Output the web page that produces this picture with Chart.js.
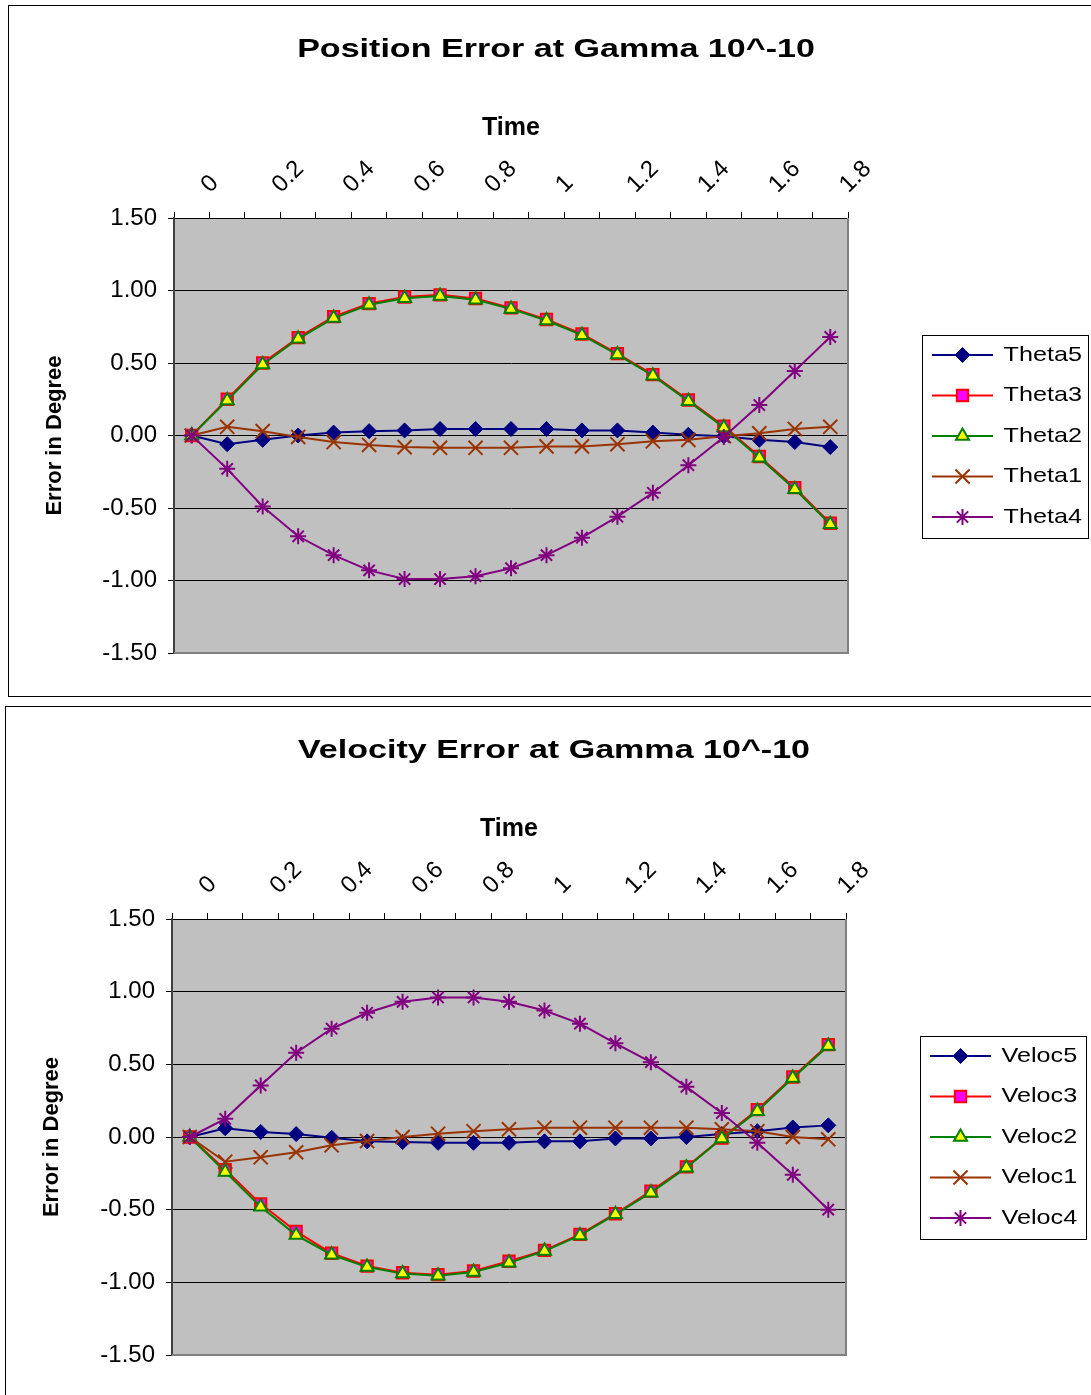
<!DOCTYPE html>
<html>
<head>
<meta charset="utf-8">
<title>Position and Velocity Error at Gamma 10^-10</title>
<script src="https://cdn.jsdelivr.net/npm/chart.js@4.4.1/dist/chart.umd.min.js"></script>
<style>
  html, body { margin: 0; padding: 0; background: #fff; overflow: hidden; }
  .frame { position: absolute; border: 1px solid #000; background: #fff; }
  #frame1 { left: 8px; top: 5px; width: 1090px; height: 690px; }
  #frame2 { left: 5px; top: 706px; width: 1090px; height: 700px; }
  canvas { display: block; }
</style>
</head>
<body>
<div class="frame" id="frame1"><canvas id="posChart" width="1090" height="690" style="width:1090px;height:690px"></canvas></div>
<div class="frame" id="frame2"><canvas id="velChart" width="1090" height="688" style="width:1090px;height:688px"></canvas></div>
<script>
// time steps (category axis), every other one is labelled
const timeLabels = ['0', '0.1', '0.2', '0.3', '0.4', '0.5', '0.6', '0.7', '0.8', '0.9',
                    '1', '1.1', '1.2', '1.3', '1.4', '1.5', '1.6', '1.7', '1.8'];
const yTicks = [-1.5, -1.0, -0.5, 0, 0.5, 1.0, 1.5];

// position error, degrees
const thetaNames = ['Theta5', 'Theta3', 'Theta2', 'Theta1', 'Theta4'];
const theta5 = [0, -0.06, -0.03, 0, 0.02, 0.03, 0.035, 0.045, 0.045, 0.045, 0.045, 0.035, 0.035, 0.02, 0.005, -0.005, -0.03, -0.045, -0.08];
const theta3 = [0, 0.25, 0.50, 0.675, 0.82, 0.91, 0.955, 0.97, 0.945, 0.88, 0.80, 0.70, 0.565, 0.42, 0.245, 0.065, -0.145, -0.36, -0.605];
const theta2 = [0, 0.242, 0.49, 0.667, 0.81, 0.902, 0.947, 0.962, 0.937, 0.873, 0.793, 0.692, 0.558, 0.412, 0.237, 0.055, -0.153, -0.37, -0.612];
const theta1 = [0, 0.06, 0.03, -0.01, -0.045, -0.065, -0.08, -0.085, -0.085, -0.085, -0.075, -0.075, -0.06, -0.04, -0.03, -0.005, 0.015, 0.045, 0.06];
const theta4 = [0, -0.23, -0.49, -0.695, -0.825, -0.93, -0.99, -0.99, -0.97, -0.915, -0.825, -0.705, -0.56, -0.395, -0.205, -0.01, 0.21, 0.445, 0.68];

// velocity error, degrees
const velocNames = ['Veloc5', 'Veloc3', 'Veloc2', 'Veloc1', 'Veloc4'];
const veloc5 = [0, 0.06, 0.035, 0.02, -0.005, -0.03, -0.035, -0.04, -0.04, -0.04, -0.03, -0.03, -0.01, -0.01, 0, 0.02, 0.04, 0.065, 0.08];
const veloc3 = [0, -0.225, -0.46, -0.65, -0.80, -0.888, -0.934, -0.947, -0.922, -0.855, -0.78, -0.67, -0.528, -0.372, -0.206, -0.007, 0.188, 0.413, 0.635];
const veloc2 = [0, -0.24, -0.48, -0.675, -0.81, -0.895, -0.94, -0.955, -0.929, -0.865, -0.785, -0.677, -0.532, -0.383, -0.211, -0.011, 0.177, 0.406, 0.626];
const veloc1 = [0, -0.17, -0.14, -0.105, -0.057, -0.028, 0, 0.023, 0.04, 0.053, 0.064, 0.064, 0.064, 0.064, 0.064, 0.053, 0.04, 0, -0.016];
const veloc4 = [0, 0.125, 0.355, 0.58, 0.745, 0.855, 0.93, 0.96, 0.96, 0.93, 0.87, 0.78, 0.645, 0.515, 0.345, 0.165, -0.04, -0.26, -0.5];

const FONT = "'Liberation Sans', Arial, Helvetica, sans-serif";
Chart.defaults.font.family = FONT;
Chart.defaults.color = '#000';

// marker / line look of each series slot (5, 3, 2, 1, 4), order = draw priority
const styles = [
  { color: '#000080', fill: '#000080', pointStyle: 'rectRot',  radius: 7.5, bw: 1, order: 4 },
  { color: '#FF0000', fill: '#FF00FF', pointStyle: 'rect',     radius: 8,   bw: 2, order: 3 },
  { color: '#008000', fill: '#FFFF00', pointStyle: 'triangle', radius: 7.5, bw: 2, order: 2 },
  { color: '#993300', fill: '#993300', pointStyle: 'crossRot', radius: 10,  bw: 2, order: 1 },
  { color: '#800080', fill: '#800080', pointStyle: 'star',     radius: 8,   bw: 2, order: 0 }
];

function stretchedText(ctx, text, x, y, font, sx, align, baseline) {
  ctx.save();
  ctx.font = font;
  ctx.fillStyle = '#000';
  ctx.textAlign = align;
  ctx.textBaseline = baseline;
  ctx.translate(x, y);
  ctx.scale(sx, 1);
  ctx.fillText(text, 0, 0);
  ctx.restore();
}

const plotBackground = {
  id: 'plotBackground',
  beforeDraw(chart) {
    const { ctx, chartArea: a } = chart;
    ctx.save();
    ctx.fillStyle = '#C0C0C0';
    ctx.fillRect(a.left, a.top, a.right - a.left, a.bottom - a.top);
    ctx.restore();
  },
  beforeDatasetsDraw(chart) {
    // grey frame on the right and bottom of the plot area
    const { ctx, chartArea: a } = chart;
    ctx.save();
    ctx.strokeStyle = '#808080';
    ctx.lineWidth = 2;
    ctx.beginPath();
    ctx.moveTo(a.right, a.top);
    ctx.lineTo(a.right, a.bottom);
    ctx.lineTo(a.left, a.bottom);
    ctx.stroke();
    ctx.restore();
  }
};

const headerAndLegend = {
  id: 'headerAndLegend',
  afterDraw(chart, args, opts) {
    const { ctx, chartArea: a } = chart;
    stretchedText(ctx, opts.title, opts.titleX, opts.titleY, 'bold 26px ' + FONT, 1.31, 'center', 'alphabetic');

    // boxed legend right of the plot
    const bx = a.right + 74, by = 329, bw = 166, bh = 203;
    ctx.save();
    ctx.fillStyle = '#fff';
    ctx.fillRect(bx, by, bw, bh);
    ctx.strokeStyle = '#000';
    ctx.lineWidth = 1;
    ctx.strokeRect(bx + 0.5, by + 0.5, bw, bh);
    chart.data.datasets.forEach((ds, i) => {
      const st = styles[i];
      const y = by + 20 + i * 40.5;
      ctx.strokeStyle = st.color;
      ctx.lineWidth = 2;
      ctx.beginPath();
      ctx.moveTo(bx + 10, y);
      ctx.lineTo(bx + 71, y);
      ctx.stroke();
      ctx.fillStyle = st.fill;
      ctx.lineWidth = st.bw;
      Chart.helpers.drawPoint(ctx, { pointStyle: st.pointStyle, radius: st.radius, rotation: 0, borderWidth: st.bw }, bx + 40.5, y);
      stretchedText(ctx, ds.label, bx + 81.5, y, '21px ' + FONT, 1.2, 'left', 'middle');
    });
    ctx.restore();
  }
};

function buildChart(canvasId, title, names, series, area, titleX) {
  const canvas = document.getElementById(canvasId);
  const datasets = series.map((data, i) => {
    const st = styles[i];
    return {
      label: names[i],
      data: data,
      order: st.order,
      borderColor: st.color,
      borderWidth: 2,
      pointStyle: st.pointStyle,
      pointRadius: st.radius,
      pointHoverRadius: st.radius,
      pointBackgroundColor: st.fill,
      pointBorderColor: st.color,
      pointBorderWidth: st.bw,
      tension: 0,
      fill: false
    };
  });

  return new Chart(canvas, {
    type: 'line',
    data: { labels: timeLabels, datasets: datasets },
    options: {
      responsive: false,
      animation: false,
      events: [],
      layout: {
        padding: { top: 66, left: 0, right: canvas.width - area.right, bottom: canvas.height - area.bottom }
      },
      plugins: {
        legend: { display: false },
        tooltip: { enabled: false },
        title: { display: false },
        headerAndLegend: { title: title, titleX: titleX, titleY: 51 }
      },
      scales: {
        x: {
          type: 'category',
          position: 'top',
          offset: true,
          title: { display: true, text: 'Time', font: { size: 25, weight: 'bold' }, padding: { top: 41, bottom: 0 } },
          ticks: {
            autoSkip: false,
            minRotation: 45,
            maxRotation: 45,
            padding: 13,
            labelOffset: 34,
            font: { size: 24 },
            callback: (v, i) => (i % 2 === 0 ? timeLabels[i] : '')
          },
          grid: { offset: true, drawOnChartArea: false, drawTicks: true, tickLength: 6, color: '#000' },
          border: { display: true, color: '#000', width: 1 },
          afterFit: s => { s.height = area.top - 66; s.paddingLeft = 0; s.paddingRight = 0; }
        },
        y: {
          min: yTicks[0],
          max: yTicks[yTicks.length - 1],
          afterBuildTicks: s => { s.ticks = yTicks.map(v => ({ value: v })); },
          ticks: { padding: 11, font: { size: 24 }, callback: v => Number(v).toFixed(2) },
          grid: { color: '#000', lineWidth: 1, drawTicks: true, tickLength: 6 },
          border: { display: true, color: '#404040', width: 2 },
          title: { display: true, text: 'Error in Degree', font: { size: 22, weight: 'bold' }, padding: { top: 33, bottom: 0 } },
          afterFit: s => { s.width = area.left; s.paddingTop = 0; s.paddingBottom = 0; }
        }
      }
    },
    plugins: [plotBackground, headerAndLegend]
  });
}

buildChart('posChart', 'Position Error at Gamma 10^-10', thetaNames,
  [theta5, theta3, theta2, theta1, theta4],
  { left: 165, right: 839, top: 212, bottom: 647 }, 547);

buildChart('velChart', 'Velocity Error at Gamma 10^-10', velocNames,
  [veloc5, veloc3, veloc2, veloc1, veloc4],
  { left: 166, right: 840, top: 212, bottom: 648 }, 548);
</script>
</body>
</html>
